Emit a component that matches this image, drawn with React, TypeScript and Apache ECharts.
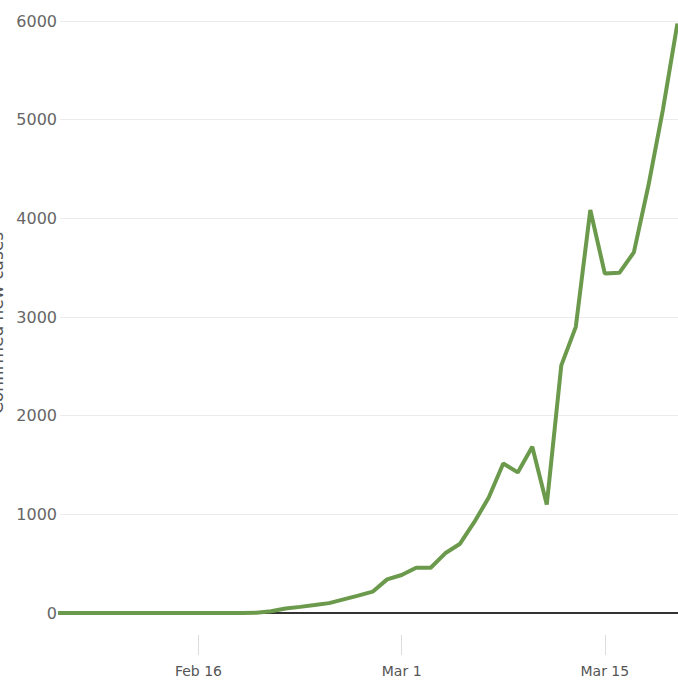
import React, { useEffect, useRef } from "react";
import * as echarts from "echarts";

const dates: string[] = [
  "2020-02-06", "2020-02-07", "2020-02-08", "2020-02-09", "2020-02-10", "2020-02-11",
  "2020-02-12", "2020-02-13", "2020-02-14", "2020-02-15", "2020-02-16", "2020-02-17",
  "2020-02-18", "2020-02-19", "2020-02-20", "2020-02-21", "2020-02-22", "2020-02-23",
  "2020-02-24", "2020-02-25", "2020-02-26", "2020-02-27", "2020-02-28", "2020-02-29",
  "2020-03-01", "2020-03-02", "2020-03-03", "2020-03-04", "2020-03-05", "2020-03-06",
  "2020-03-07", "2020-03-08", "2020-03-09", "2020-03-10", "2020-03-11", "2020-03-12",
  "2020-03-13", "2020-03-14", "2020-03-15", "2020-03-16", "2020-03-17", "2020-03-18",
  "2020-03-19", "2020-03-20",
];

const newCases: number[] = [
  0, 0, 0, 0, 0, 0,
  0, 0, 0, 0, 0, 0,
  0, 0, 3, 17, 45, 62,
  80, 100, 138, 176, 216, 341,
  385, 458, 459, 605, 699, 920,
  1170, 1515, 1425, 1685, 1100, 2510,
  2900, 4085, 3440, 3448, 3655, 4330,
  5100, 5975,
];

const tickDates: string[] = ["2020-02-16", "2020-03-01", "2020-03-15"];
const tickLabels: string[] = ["Feb 16", "Mar 1", "Mar 15"];

const yName = "Confirmed new cases";

const toTs = (s: string): number => {
  const [y, m, d] = s.split("-").map(Number);
  return Date.UTC(y, m - 1, d);
};

export default function App() {
  const ref = useRef<HTMLDivElement>(null);

  useEffect(() => {
    document.body.style.margin = "0";
    if (!ref.current) return;
    const chart = echarts.init(ref.current, null, { renderer: "svg" });
    const tickTs = tickDates.map(toTs);
    const xMin = Date.UTC(2020, 1, 6, 11);
    const xMax = Date.UTC(2020, 2, 20, 1);

    chart.setOption({
      animation: false,
      backgroundColor: "#ffffff",
      grid: {
        left: 60,
        right: 0,
        top: 21,
        bottom: 70,
        containLabel: false,
        outerBoundsMode: "none",
      },
      xAxis: [
        {
          type: "value",
          min: xMin,
          max: xMax,
          position: "bottom",
          offset: 22,
          axisLine: { show: false, onZero: false },
          axisTick: {
            show: true,
            customValues: tickTs,
            length: 20,
            lineStyle: { color: "#dddddd", width: 1 },
          },
          axisLabel: {
            customValues: tickTs,
            margin: 29,
            color: "#555555",
            fontSize: 14,
            fontFamily: "DejaVu Sans",
            formatter: (v: number) => {
              let best = 0;
              for (let i = 0; i < tickTs.length; i++) {
                if (Math.abs(tickTs[i] - v) < Math.abs(tickTs[best] - v)) best = i;
              }
              return tickLabels[best];
            },
          },
          splitLine: { show: false },
        },
        {
          type: "value",
          min: xMin,
          max: xMax,
          position: "bottom",
          offset: 0,
          axisLine: { show: true, onZero: false, lineStyle: { color: "#333333", width: 2 } },
          axisTick: { show: false },
          axisLabel: { show: false },
          splitLine: { show: false },
        },
      ],
      yAxis: {
        type: "value",
        min: 0,
        max: 6000,
        interval: 1000,
        axisLine: { show: false },
        axisTick: { show: false },
        splitLine: { lineStyle: { color: "#ebebeb", width: 1 } },
        axisLabel: {
          color: "#666666",
          fontSize: 16,
          fontFamily: "DejaVu Sans",
          margin: 3,
          formatter: (v: number) => String(v),
        },
        name: yName,
        nameLocation: "middle",
        nameRotate: 90,
        nameGap: 50,
        nameTextStyle: {
          color: "#555555",
          fontSize: 17,
          fontFamily: "DejaVu Sans",
          padding: [0, 12, 0, 0],
        },
      },
      series: [
        {
          type: "line",
          xAxisIndex: 0,
          data: dates.map((d, i) => [toTs(d), newCases[i]]),
          showSymbol: false,
          symbol: "none",
          clip: true,
          lineStyle: { color: "#6b9a4c", width: 4 },
          z: 3,
        },
      ],
    });

    return () => chart.dispose();
  }, []);

  return <div ref={ref} style={{ width: 678, height: 683 }} />;
}
